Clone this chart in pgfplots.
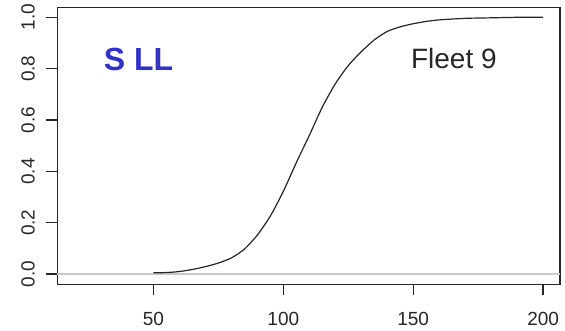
\documentclass[border=0pt]{standalone}
\usepackage{pgfplots}
\pgfplotsset{compat=1.18}
\usepackage{fontspec}
\setmainfont{Liberation Sans}
\definecolor{sllblue}{RGB}{50,50,200}
\definecolor{zeroline}{RGB}{200,200,200}
\begin{document}
\begin{tikzpicture}
\begin{axis}[
  scale only axis,
  width=502.7pt, height=277.2pt,
  xmin=13, xmax=206.5,
  ymin=-0.0405, ymax=1.039,
  axis line style={line width=1.4pt, black!85},
  xtick={50,100,150,200},
  ytick={0,0.2,0.4,0.6,0.8,1.0},
  tick align=outside,
  xtick pos=bottom, ytick pos=left,
  major tick length=11pt,
  tick style={line width=1.3pt, black!85},
  /pgf/number format/assume math mode=true,
  ticklabel style={font=\fontsize{19}{19}\selectfont, text=black!85, inner sep=0pt},
  yticklabel style={rotate=90, anchor=south, /pgf/number format/.cd, fixed, fixed zerofill, precision=1},
  xticklabel style={anchor=north},
  xticklabel shift=16.2pt,
  yticklabel shift=11.3pt,
  clip=false,
]
\addplot [zeroline, line width=1.2pt] coordinates {(13,0) (206.5,0)};
\addplot [black!85, line width=1.2pt, smooth, tension=0.4] coordinates {
(50,0.005) (55,0.006) (60,0.010) (65,0.018) (70,0.029) (75,0.043)
(80,0.063) (85,0.097) (90,0.152) (95,0.226) (100,0.322) (105,0.434)
(110,0.540) (115,0.650) (120,0.741) (125,0.812) (130,0.866) (135,0.912)
(140,0.945) (145,0.963) (150,0.975) (155,0.984) (160,0.990) (170,0.996)
(180,0.998) (190,1.0) (200,1.0)};
\node[font=\fontsize{32}{32}\selectfont\bfseries, text=sllblue, inner sep=0pt] at (axis cs:44.3,0.834) {S LL};
\node[font=\fontsize{28}{28}\selectfont, text=black!85, inner sep=0pt] at (axis cs:165.65,0.840) {Fleet 9};
\end{axis}
\path ([shift={(-57.3pt,-46.5pt)}]current axis.south west) rectangle ([shift={(5pt,7.3pt)}]current axis.north east);
\end{tikzpicture}
\end{document}
